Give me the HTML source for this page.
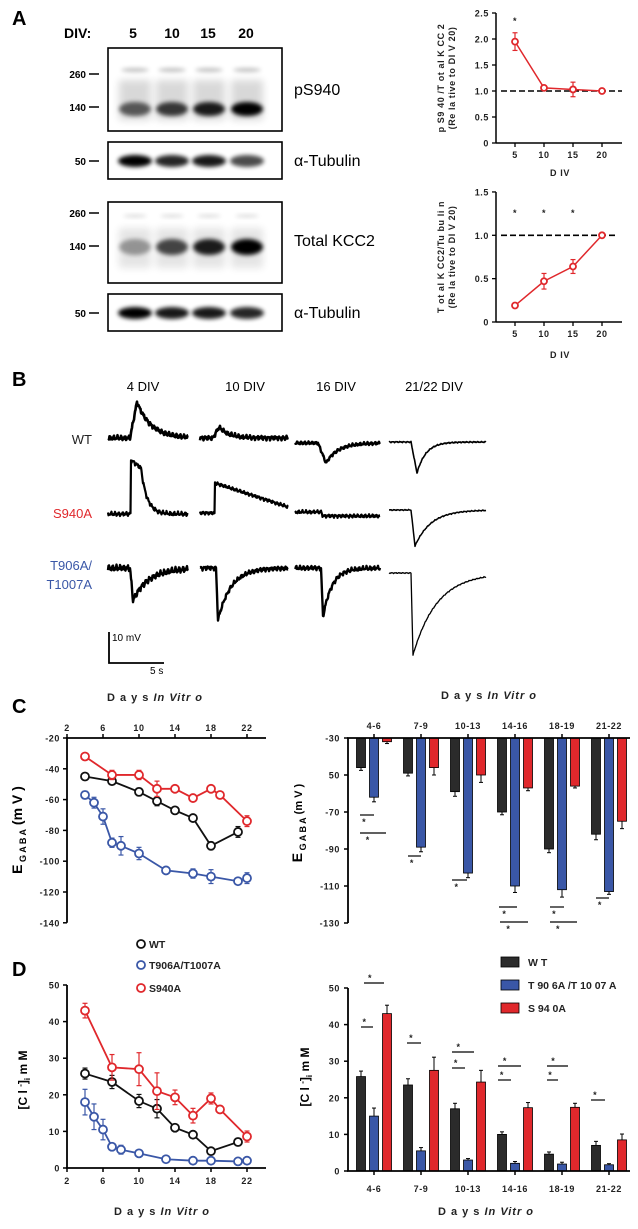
<!DOCTYPE html>
<html><head><meta charset="utf-8"><style>
html,body{margin:0;padding:0;background:#fff;}
svg{display:block;font-family:"Liberation Sans",Arial,sans-serif;}
.tk{font-size:9px;font-weight:bold;fill:#222;letter-spacing:0.6px;}
.ttl{font-size:11px;font-weight:bold;fill:#222;letter-spacing:1px;}
</style></head><body>
<svg id="fig" width="638" height="1229" viewBox="0 0 638 1229" xmlns="http://www.w3.org/2000/svg">
<defs>
<filter id="blur2" x="-50%" y="-100%" width="200%" height="300%"><feGaussianBlur stdDeviation="2.2"/></filter>
<filter id="blur4" x="-50%" y="-100%" width="200%" height="300%"><feGaussianBlur stdDeviation="4"/></filter>
</defs>
<text x="12" y="25" font-size="20" font-weight="bold">A</text>
<text x="12" y="386" font-size="20" font-weight="bold">B</text>
<text x="12" y="713" font-size="20" font-weight="bold">C</text>
<text x="12" y="976" font-size="20" font-weight="bold">D</text>

<g font-weight="bold">
<text x="64" y="38" font-size="14">DIV:</text>
<text x="133" y="38" font-size="14" text-anchor="middle">5</text>
<text x="172" y="38" font-size="14" text-anchor="middle">10</text>
<text x="208" y="38" font-size="14" text-anchor="middle">15</text>
<text x="246" y="38" font-size="14" text-anchor="middle">20</text>
</g>
<g id="blots"></g>
<g id="chartA1"></g><g id="chartA2"></g>
<g id="traces"></g>
<g id="chartC1"></g><g id="chartC2"></g>
<g id="chartD1"></g><g id="chartD2"></g>
</svg>
<script>
const divA = [5, 10, 15, 20];
const pS940Ratio = [1.95, 1.06, 1.03, 1.0];
const pS940Err = [0.17, 0.02, 0.14, 0.0];
const totalKcc2Ratio = [0.19, 0.47, 0.64, 1.0];
const totalKcc2Err = [0.02, 0.09, 0.08, 0.0];

const egabaWTdays = [4, 7, 10, 12, 14, 16, 18, 21];
const egabaWT = [-45, -48, -55, -61, -67, -72, -90, -81];
const egabaWTerr = [1.5, 2, 2.5, 3, 1.5, 1.5, 2.5, 3.5];
const egabaS940Adays = [4, 7, 10, 12, 14, 16, 18, 19, 22];
const egabaS940A = [-32, -44, -44, -53, -53, -59, -53, -57, -74];
const egabaS940Aerr = [1.5, 3, 3, 5, 1.5, 2, 1.5, 1.5, 3.5];
const egabaTdays = [4, 5, 6, 7, 8, 10, 13, 16, 18, 21, 22];
const egabaT = [-57, -62, -71, -88, -90, -95, -106, -108, -110, -113, -111];
const egabaTerr = [2.5, 3.5, 5, 3, 6, 4, 2, 3, 4.5, 1.5, 3.5];

const groups = ["4-6", "7-9", "10-13", "14-16", "18-19", "21-22"];
const barEgabaWT = [-46, -49, -59, -70, -90, -82];
const barEgabaWTerr = [1.5, 1.5, 2.5, 1.5, 2, 3];
const barEgabaT = [-62, -89, -103, -110, -112, -113];
const barEgabaTerr = [2.5, 2.5, 2.5, 3.5, 4, 1.5];
const barEgabaS = [-32, -46, -50, -57, -56, -75];
const barEgabaSerr = [1, 4, 4, 1.5, 1, 4];

const clWTdays = [4, 7, 10, 12, 14, 16, 18, 21];
const clWT = [25.8, 23.5, 18.3, 16.2, 11, 9.1, 4.6, 7.1];
const clWTerr = [1.5, 1.8, 1.8, 2.5, 0.8, 0.8, 0.8, 1];
const clSdays = [4, 7, 10, 12, 14, 16, 18, 19, 22];
const clS = [43, 27.5, 27, 21, 19.3, 14.3, 19, 16, 8.6];
const clSerr = [2, 3.5, 4.5, 5, 2, 2, 1.5, 1, 1.5];
const clTdays = [4, 5, 6, 7, 8, 10, 13, 16, 18, 21, 22];
const clT = [18, 14, 10.5, 5.8, 5, 4, 2.4, 2, 2, 1.8, 2];
const clTerr = [3.5, 3.5, 2.8, 1, 1.2, 0.6, 0.4, 0.4, 0.4, 0.3, 0.3];

const barClWT = [25.8, 23.5, 17, 10, 4.6, 7];
const barClWTerr = [1.5, 1.7, 1.5, 0.7, 0.6, 1.1];
const barClT = [15, 5.5, 3, 2.1, 1.9, 1.7];
const barClTerr = [2.2, 0.9, 0.4, 0.5, 0.5, 0.3];
const barClS = [43, 27.5, 24.3, 17.3, 17.4, 8.5];
const barClSerr = [2.3, 3.6, 3.2, 1.4, 1.1, 1.6];

const yTicksA1 = [0, 0.5, 1.0, 1.5, 2.0, 2.5];
const yTicksA2 = [0, 0.5, 1.0, 1.5];
const dayTicks = [2, 6, 10, 14, 18, 22];
const yTicksC1 = [-20, -40, -60, -80, -100, -120, -140];
const yTicksC2 = [-30, -50, -70, -90, -110, -130];
const yTicksD = [0, 10, 20, 30, 40, 50];

const RED = "#e0282c", BLUE = "#3a57a7", BLACK = "#111", DARK = "#2b2b2b";
const NS = "http://www.w3.org/2000/svg";
function mk(tag, attrs, parent) {
  const e = document.createElementNS(NS, tag);
  for (const k in attrs) e.setAttribute(k, attrs[k]);
  if (parent) parent.appendChild(e);
  return e;
}
function txt(parent, x, y, s, cls, anchor) {
  const t = mk("text", {x: x, y: y, "class": cls || "tk", "text-anchor": anchor || "middle"}, parent);
  t.textContent = s;
  return t;
}
function fmt1(v) { return v === 0 ? "0" : v.toFixed(1); }

(function () {
  const g = document.getElementById("blots");
  const lanes = [135, 172, 209, 247];
  const boxes = [[48, 131], [142, 179], [202, 283], [294, 331]];
  const boxNames = ["ps940-blot", "tubulin-blot-1", "total-kcc2-blot", "tubulin-blot-2"];
  const markers = [["260", 74], ["140", 107], ["50", 161], ["260", 213], ["140", 246], ["50", 313]];
  const labels = [["pS940", 95], ["α-Tubulin", 166], ["Total KCC2", 246], ["α-Tubulin", 318]];
  boxes.forEach(function (b, i) {
    const r = mk("rect", {x: 108, y: b[0], width: 174, height: b[1] - b[0], fill: "#fff", stroke: "#000", "stroke-width": 1.6}, g);
    
    
  });
  const p1 = [0.6, 0.75, 0.88, 1], p3 = [0.35, 0.7, 0.88, 1], tub1 = [1, 0.85, 0.9, 0.7], tub2 = [1, 0.9, 0.9, 0.85];
  lanes.forEach(function (x, i) {
    mk("ellipse", {cx: x, cy: 70, rx: 14, ry: 2, fill: "#000", opacity: 0.25, filter: "url(#blur2)"}, g);
    mk("rect", {x: x - 16, y: 80, width: 32, height: 40, fill: "#000", opacity: 0.15, filter: "url(#blur4)"}, g);
    const b1 = mk("ellipse", {cx: x, cy: 109, rx: 16, ry: 7, fill: "#000", opacity: p1[i], filter: "url(#blur2)"}, g);
    
    
    mk("ellipse", {cx: x, cy: 161, rx: 17, ry: 6, fill: "#000", opacity: tub1[i], filter: "url(#blur2)"}, g);
    mk("ellipse", {cx: x, cy: 216, rx: 12, ry: 1.5, fill: "#000", opacity: 0.15, filter: "url(#blur2)"}, g);
    mk("rect", {x: x - 16, y: 228, width: 32, height: 40, fill: "#000", opacity: 0.1, filter: "url(#blur4)"}, g);
    const b3 = mk("ellipse", {cx: x, cy: 247, rx: 16, ry: 8, fill: "#000", opacity: p3[i], filter: "url(#blur2)"}, g);
    
    
    mk("ellipse", {cx: x, cy: 313, rx: 17, ry: 6, fill: "#000", opacity: tub2[i], filter: "url(#blur2)"}, g);
  });
  markers.forEach(function (m) {
    const t = mk("text", {x: 86, y: m[1] + 4, "font-size": 10, "font-weight": "bold", "text-anchor": "end"}, g);
    t.textContent = m[0];
    
    
    mk("line", {x1: 89, x2: 99, y1: m[1], y2: m[1], stroke: "#000", "stroke-width": 1.5}, g);
  });
  labels.forEach(function (l) {
    const t = mk("text", {x: 294, y: l[1], "font-size": 16}, g);
    t.textContent = l[0];
    
    
  });
})();

function circle(g, x, y, color, r) {
  return mk("circle", {cx: x, cy: y, r: r || 3.6, fill: "#fff", stroke: color, "stroke-width": 1.8}, g);
}
function errbar(g, x, y1, y2, color, w) {
  mk("line", {x1: x, x2: x, y1: y1, y2: y2, stroke: color, "stroke-width": 1.2}, g);
  mk("line", {x1: x - w, x2: x + w, y1: y1, y2: y1, stroke: color, "stroke-width": 1.2}, g);
  mk("line", {x1: x - w, x2: x + w, y1: y2, y2: y2, stroke: color, "stroke-width": 1.2}, g);
}

function chartA(id, vals, errs, yTicks, y0px, pxPer, stars, ylab1, ylab2, divY, lblY, dashEnd) {
  const g = document.getElementById(id);
  
  
  const X = function (d) { return 515 + (d - 5) * (602 - 515) / 15; };
  const Y = function (v) { return y0px - v * pxPer; };
  const top = Y(yTicks[yTicks.length - 1]);
  mk("line", {x1: 496, x2: 496, y1: top, y2: y0px, stroke: "#000", "stroke-width": 1.5}, g);
  mk("line", {x1: 496, x2: 622, y1: y0px, y2: y0px, stroke: "#000", "stroke-width": 1.5}, g);
  yTicks.forEach(function (v) {
    mk("line", {x1: 492, x2: 496, y1: Y(v), y2: Y(v), stroke: "#000", "stroke-width": 1.3}, g);
    const t = txt(g, 489, Y(v) + 3.5, fmt1(v), "tk", "end");
    
    
  });
  divA.forEach(function (d) {
    mk("line", {x1: X(d), x2: X(d), y1: y0px, y2: y0px + 4, stroke: "#000", "stroke-width": 1.3}, g);
    const t = txt(g, X(d), lblY, String(d), "tk");
    
    
  });
  const dl = mk("line", {x1: 501, x2: dashEnd, y1: Y(1), y2: Y(1), stroke: "#000", "stroke-width": 1.6, "stroke-dasharray": "6,3"}, g);
  
  
  const pts = vals.map(function (v, i) { return X(divA[i]) + "," + Y(v); }).join(" ");
  const pl = mk("polyline", {points: pts, fill: "none", stroke: RED, "stroke-width": 1.5}, g);
  
  
  vals.forEach(function (v, i) {
    if (errs[i] > 0) errbar(g, X(divA[i]), Y(v + errs[i]), Y(v - errs[i]), RED, 2.5);
    const c = circle(g, X(divA[i]), Y(v), RED, 3);
    
    
  });
  stars.forEach(function (s) {
    const t = txt(g, X(s[0]), s[1], "*", "tk");
    
    
  });
  const dv = txt(g, 560, divY, "D IV", "tk");
  
  
  const cy = (top + y0px) / 2;
  const l1 = mk("text", {x: 0, y: 0, "class": "tk", "text-anchor": "middle", transform: "translate(444," + cy + ") rotate(-90)"}, g);
  l1.textContent = ylab1;
  
  
  const l2 = mk("text", {x: 0, y: 0, "class": "tk", "text-anchor": "middle", transform: "translate(455," + cy + ") rotate(-90)"}, g);
  l2.textContent = ylab2;
}
chartA("chartA1", pS940Ratio, pS940Err, yTicksA1, 143, 52, [[5, 24]], "p S9 40 /T ot al K CC 2", "(Re la tive  to  DI V  20)", 176, 158, 622);
chartA("chartA2", totalKcc2Ratio, totalKcc2Err, yTicksA2, 322, 86.7, [[5, 216], [10, 216], [15, 216]], "T ot al K CC2/Tu bu li n", "(Re la tive  to  DI V  20)", 358, 337, 618);

(function () {
  const g = document.getElementById("traces");
  
  
  const heads = [["4 DIV", 143], ["10 DIV", 245], ["16 DIV", 336], ["21/22 DIV", 434]];
  heads.forEach(function (h) {
    const t = mk("text", {x: h[1], y: 391, "font-size": 13, "text-anchor": "middle"}, g);
    t.textContent = h[0];
    
    
  });
  const rl = [["WT", 444, "#222"], ["S940A", 518, RED], ["T906A/", 570, BLUE], ["T1007A", 589, BLUE]];
  rl.forEach(function (r) {
    const t = mk("text", {x: 92, y: r[1], "font-size": 13, "text-anchor": "end", fill: r[2]}, g);
    t.textContent = r[0];
    
    
  });
  function noise(x, k) { return Math.sin(x * 1.7 + k) * 0.6 + Math.sin(x * 3.3 + k * 2) * 0.4 + Math.sin(x * 7.1 + k) * 0.3; }
  const specs = [
    [108, 188, 438, 130, -36, 7, 14, 2.2, 2.6, "exp"],
    [200, 288, 438, 213, -11, 6, 10, 2, 2.6, "exp"],
    [295, 380, 443, 318, 20, 8, 12, 1.5, 2.4, "exp"],
    [389, 486, 442, 411, 31, 6, 9, 0.6, 1.6, "exp"],
    [108, 188, 514, 131, -54, 0.5, 6, 2, 2.2, "plateau"],
    [200, 288, 513, 215, -30, 0.5, 0, 1.5, 2.2, "linear"],
    [295, 380, 512, 321, 4, 2, 1e9, 1.6, 2.2, "exp"],
    [389, 486, 510, 411, 36, 4, 16, 0.5, 1.5, "exp"],
    [108, 188, 568, 130, 32, 3, 16, 3, 2.4, "exp"],
    [200, 288, 568, 216, 52, 2, 13, 2, 2.4, "exp"],
    [295, 380, 568, 321, 49, 2, 9, 2, 2.4, "exp"],
    [389, 486, 573, 411, 82, 2, 24, 0.5, 1.3, "exp"]
  ];
  specs.forEach(function (s, k) {
    let pts = [];
    for (let x = s[0]; x <= s[1]; x += 0.5) {
      let d = 0;
      const t = x - s[3];
      if (t >= 0) {
        if (s[9] === "exp") d = t < s[5] ? s[4] * t / s[5] : s[4] * Math.exp(-(t - s[5]) / s[6]);
        else if (s[9] === "plateau") d = t < 10 ? s[4] * (1 - t * 0.015) : s[4] * 0.85 * Math.exp(-(t - 10) / s[6]);
        else if (s[9] === "linear") d = s[4] + (-s[4] - 6) * (t / (s[1] - s[3]));
      }
      pts.push(x.toFixed(1) + "," + (s[2] + d + noise(x, k) * s[7]).toFixed(1));
    }
    const p = mk("polyline", {points: pts.join(" "), fill: "none", stroke: "#000", "stroke-width": s[8], "stroke-linejoin": "round"}, g);
    
    
  });
  const sb = mk("path", {d: "M109,632 V663 H164", fill: "none", stroke: "#000", "stroke-width": 1.8}, g);
  
  
  const t1 = mk("text", {x: 112, y: 641, "font-size": 10}, g); t1.textContent = "10 mV";
  const t2 = mk("text", {x: 150, y: 674, "font-size": 10}, g); t2.textContent = "5 s";
})();

function lineChart(id, name, yTicks, Y, xAxisY, topAxis, series, yLabelCy) {
  const g = document.getElementById(id);
  
  
  const X = function (d) { return 67 + (d - 2) * 9; };
  const yTop = Y(yTicks[yTicks.length - 1]), yBot = Y(yTicks[0]);
  const ya = Math.min(yTop, yBot), yb = Math.max(yTop, yBot);
  mk("line", {x1: 67, x2: 67, y1: ya, y2: yb, stroke: "#000", "stroke-width": 1.8}, g);
  mk("line", {x1: 66, x2: 266, y1: xAxisY, y2: xAxisY, stroke: "#000", "stroke-width": 1.8}, g);
  yTicks.forEach(function (v) {
    mk("line", {x1: 63, x2: 67, y1: Y(v), y2: Y(v), stroke: "#000", "stroke-width": 1.5}, g);
    const t = txt(g, 60, Y(v) + 3.5, String(v), "tk", "end");
    
    
  });
  dayTicks.forEach(function (d) {
    mk("line", {x1: X(d), x2: X(d), y1: topAxis ? xAxisY - 4 : xAxisY, y2: topAxis ? xAxisY : xAxisY + 4, stroke: "#000", "stroke-width": 1.5}, g);
    const t = txt(g, X(d), topAxis ? xAxisY - 7 : xAxisY + 16, String(d), "tk");
    
    
  });
  series.forEach(function (s) {
    const pts = s.days.map(function (d, i) { return X(d) + "," + Y(s.vals[i]); }).join(" ");
    const pl = mk("polyline", {points: pts, fill: "none", stroke: s.color, "stroke-width": 1.8}, g);
    
    
    s.vals.forEach(function (v, i) {
      errbar(g, X(s.days[i]), Y(v + s.err[i]), Y(v - s.err[i]), s.color, 2.5);
      const c = circle(g, X(s.days[i]), Y(v), s.color, 4);
      
      
    });
  });
  const yl = mk("text", {x: 0, y: 0, "font-size": 14, "font-weight": "bold", "text-anchor": "middle", transform: "translate(" + (id === "chartC1" ? 22 : 27) + "," + yLabelCy + ") rotate(-90)"}, g);
  
  
  if (id === "chartC1") {
    yl.innerHTML = 'E<tspan font-size="9" dy="4"> G A B A</tspan><tspan dy="-4">  (m V )</tspan>';
  } else {
    yl.setAttribute("font-size", "12");
    yl.innerHTML = '[C l <tspan font-size="8" dy="-4">-</tspan><tspan dy="4">]</tspan><tspan font-size="8" dy="3">i</tspan><tspan dy="-3"> m M</tspan>';
  }
}
const YC1 = function (v) { return 738 + (-20 - v) * 1.54; };
lineChart("chartC1", "egaba-line-chart", yTicksC1, YC1, 738, true, [
  {name: "wt", days: egabaWTdays, vals: egabaWT, err: egabaWTerr, color: BLACK},
  {name: "s940a", days: egabaS940Adays, vals: egabaS940A, err: egabaS940Aerr, color: RED},
  {name: "t906a-t1007a", days: egabaTdays, vals: egabaT, err: egabaTerr, color: BLUE}
], 830);
const YD1 = function (v) { return 1168 - v * 3.66; };
lineChart("chartD1", "chloride-line-chart", yTicksD, YD1, 1168, false, [
  {name: "wt", days: clWTdays, vals: clWT, err: clWTerr, color: BLACK},
  {name: "s940a", days: clSdays, vals: clS, err: clSerr, color: RED},
  {name: "t906a-t1007a", days: clTdays, vals: clT, err: clTerr, color: BLUE}
], 1080);

(function () {
  const g = document.getElementById("chartC1");
  const t = mk("text", {x: 155, y: 701, "class": "ttl", "text-anchor": "middle"}, g);
  t.innerHTML = 'D a y s  <tspan font-style="italic">In Vitr o</tspan>';
  
  
  const g2 = document.getElementById("chartD1");
  const t2 = mk("text", {x: 162, y: 1215, "class": "ttl", "text-anchor": "middle"}, g2);
  t2.innerHTML = 'D a y s  <tspan font-style="italic">In Vitr o</tspan>';
  
  
  const leg = [["WT", BLACK, 944], ["T906A/T1007A", BLUE, 965], ["S940A", RED, 988]];
  leg.forEach(function (l) {
    const c = circle(g, 141, l[2], l[1], 4);
    
    
    const tt = mk("text", {x: 149, y: l[2] + 4, "font-size": 10.5, "font-weight": "bold", fill: "#222"}, g);
    tt.textContent = l[0];
    
    
  });
})();

const groupX = function (i) { return 374 + i * 47; };
function barChart(id, name, yTicks, Y, baseY, topAxis, wt, wtE, tt, ttE, ss, ssE, sig) {
  const g = document.getElementById(id);
  
  
  const ya = Math.min(Y(yTicks[0]), Y(yTicks[yTicks.length - 1])), yb = Math.max(Y(yTicks[0]), Y(yTicks[yTicks.length - 1]));
  mk("line", {x1: 348, x2: 348, y1: ya, y2: yb, stroke: "#000", "stroke-width": 1.8}, g);
  yTicks.forEach(function (v) {
    mk("line", {x1: 344, x2: 348, y1: Y(v), y2: Y(v), stroke: "#000", "stroke-width": 1.5}, g);
    const lab = v === -50 ? "50" : String(v);
    const t = txt(g, 340, Y(v) + 3.5, lab, "tk", "end");
    
    
  });
  const sets = [[wt, wtE, DARK, -13, "wt-bar"], [tt, ttE, BLUE, 0, "t906a-t1007a-bar"], [ss, ssE, RED, 13, "s940a-bar"]];
  groups.forEach(function (gname, i) {
    sets.forEach(function (s) {
      const cx = groupX(i) + s[3];
      const v = s[0][i];
      const y1 = Math.min(Y(v), baseY), h = Math.abs(Y(v) - baseY);
      const r = mk("rect", {x: cx - 4.5, y: y1, width: 9, height: h, fill: s[2], stroke: "#000", "stroke-width": 0.8}, g);
      
      
      const e = s[1][i];
      const farY = topAxis ? Y(v - e) : Y(v + e);
      mk("line", {x1: cx, x2: cx, y1: Y(v), y2: farY, stroke: "#000", "stroke-width": 1}, g);
      mk("line", {x1: cx - 2, x2: cx + 2, y1: farY, y2: farY, stroke: "#000", "stroke-width": 1}, g);
    });
    mk("line", {x1: groupX(i), x2: groupX(i), y1: topAxis ? baseY - 4 : baseY, y2: topAxis ? baseY : baseY + 4, stroke: "#000", "stroke-width": 1.5}, g);
    const t = txt(g, groupX(i), topAxis ? baseY - 9 : baseY + 21, gname, "tk");
    
    
  });
  mk("line", {x1: 347, x2: 630, y1: baseY, y2: baseY, stroke: "#000", "stroke-width": 1.8}, g);
  sig.forEach(function (s) {
    const l = mk("line", {x1: s[0], x2: s[1], y1: s[2], y2: s[2], stroke: "#000", "stroke-width": 1.2}, g);
    
    
    const t = txt(g, (s[0] + s[1]) / 2 - (s[1] - s[0]) * 0.2, s[2] + s[3], "*", "tk");
    
    
  });
}
const YC2 = function (v) { return 738 + (-30 - v) * 1.85; };
barChart("chartC2", "egaba-bar-chart", yTicksC2, YC2, 738, true, barEgabaWT, barEgabaWTerr, barEgabaT, barEgabaTerr, barEgabaS, barEgabaSerr, [
  [360, 374, 815, 10], [360, 386, 833, 10], [408, 421, 856, 10], [452, 467, 880, 10],
  [499, 517, 907, 10], [500, 528, 922, 10], [550, 564, 907, 10], [550, 577, 922, 10], [596, 609, 898, 10]
]);
const YD2 = function (v) { return 1171 - v * 3.66; };
barChart("chartD2", "chloride-bar-chart", yTicksD, YD2, 1171, false, barClWT, barClWTerr, barClT, barClTerr, barClS, barClSerr, [
  [361, 373, 1027, -2], [364, 384, 983, -2], [407, 421, 1043, -2], [452, 474, 1052, -2], [452, 465, 1068, -2],
  [498, 521, 1066, -2], [498, 511, 1080, -2], [547, 568, 1066, -2], [547, 558, 1080, -2], [591, 605, 1100, -2]
]);
(function () {
  const g = document.getElementById("chartC2");
  const t = mk("text", {x: 489, y: 699, "class": "ttl", "text-anchor": "middle"}, g);
  t.innerHTML = 'D a y s  <tspan font-style="italic">In Vitr o</tspan>';
  
  
  const yl = mk("text", {x: 0, y: 0, "font-size": 14, "font-weight": "bold", "text-anchor": "middle", transform: "translate(302,823) rotate(-90)"}, g);
  yl.innerHTML = 'E<tspan font-size="9" dy="4"> G A B A</tspan><tspan dy="-4" font-size="11">  (m V )</tspan>';
  
  
  const g2 = document.getElementById("chartD2");
  const t2 = mk("text", {x: 486, y: 1215, "class": "ttl", "text-anchor": "middle"}, g2);
  t2.innerHTML = 'D a y s  <tspan font-style="italic">In Vitr o</tspan>';
  
  
  const yl2 = mk("text", {x: 0, y: 0, "font-size": 12, "font-weight": "bold", "text-anchor": "middle", transform: "translate(309,1077) rotate(-90)"}, g2);
  yl2.innerHTML = '[C l <tspan font-size="8" dy="-4">-</tspan><tspan dy="4">]</tspan><tspan font-size="8" dy="3">i</tspan><tspan dy="-3"> m M</tspan>';
  
  
  const leg = [["W T", DARK, 962], ["T 90 6A /T 10 07 A", BLUE, 985], ["S 94 0A", RED, 1008]];
  leg.forEach(function (l) {
    const r = mk("rect", {x: 501, y: l[2] - 5, width: 18, height: 10, fill: l[1], stroke: "#000", "stroke-width": 0.8}, g2);
    
    
    const tt = mk("text", {x: 528, y: l[2] + 4, "font-size": 10.5, "font-weight": "bold", fill: "#222"}, g2);
    tt.textContent = l[0];
    
    
  });
})();
</script>
</body></html>
